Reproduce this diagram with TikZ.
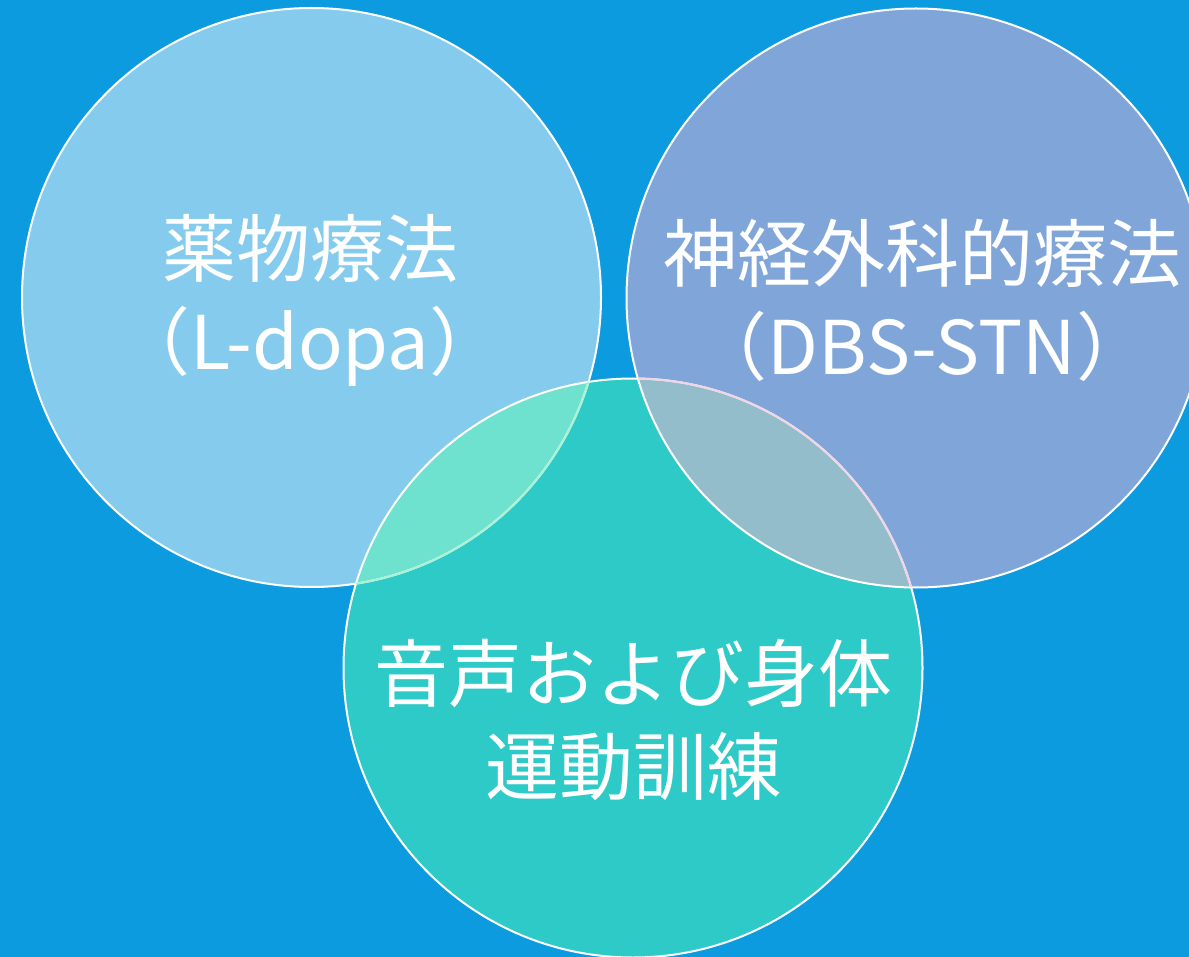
\documentclass[tikz,border=0pt]{standalone}
\usepackage{fontspec}
\newfontfamily\jp{Noto Sans CJK JP}
\definecolor{bg}{HTML}{0C9BDF}
\definecolor{cA}{HTML}{84CBED}
\definecolor{cB}{HTML}{80A6D9}
\definecolor{cC}{HTML}{2ECAC7}
\definecolor{oAC}{HTML}{6EE2CF}
\definecolor{oBC}{HTML}{94BDCB}
\definecolor{edgeA}{HTML}{A8F2D6}
\definecolor{edgeC}{HTML}{F2D4E6}
\tikzset{
  ring/.style={draw=white, line width=2pt},
  lbl/.style={text=white, align=center, font=\jp\fontsize{74}{93}\selectfont, inner sep=0pt}
}
\begin{document}
\begin{tikzpicture}[x=1pt,y=-1pt]
\useasboundingbox (0,0) rectangle (1189,957);
\fill[bg] (0,0) rectangle (1189,957);
\coordinate (c1) at (311.5,297.5);
\coordinate (c2) at (916,298);
\coordinate (c3) at (633,668);
\def\R{289.5pt}
\fill[cA] (c1) circle[radius=\R];
\fill[cB] (c2) circle[radius=\R];
\fill[cC] (c3) circle[radius=\R];
\begin{scope}
  \clip (c1) circle[radius=\R];
  \fill[oAC] (c3) circle[radius=\R];
\end{scope}
\begin{scope}
  \clip (c2) circle[radius=\R];
  \fill[oBC] (c3) circle[radius=\R];
\end{scope}
\draw[ring] (c1) circle[radius=\R];
\draw[ring] (c2) circle[radius=\R];
\draw[ring] (c3) circle[radius=\R];
\begin{scope}
  \clip (c3) circle[radius=\R];
  \draw[ring, draw=edgeA] (c1) circle[radius=\R];
\end{scope}
\begin{scope}
  \clip (c2) circle[radius=\R];
  \draw[ring, draw=edgeC] (c3) circle[radius=\R];
\end{scope}
\node[lbl] (t1) at (310,300) {薬物療法\\（L-dopa）};
\node[lbl] (t2) at (922,300) {神経外科的療法\\（DBS-STN）};
\node[lbl] (t3) at (633,720) {音声および身体\\運動訓練};
\end{tikzpicture}
\end{document}
